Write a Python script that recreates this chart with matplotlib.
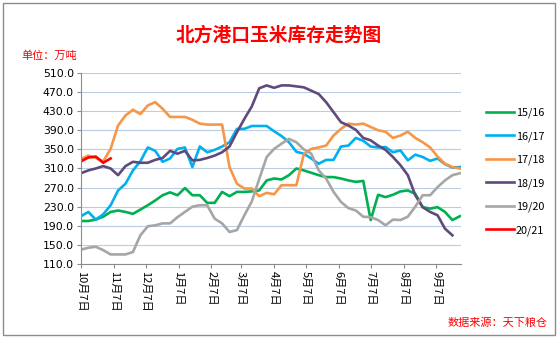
import matplotlib

matplotlib.use("Agg")
import matplotlib.pyplot as plt
from matplotlib.patches import Rectangle

plt.rcParams["font.family"] = ["Noto Sans CJK SC", "DejaVu Sans"]

# weekly points, x = days since Oct 7
tick_days = [0, 31, 61, 92, 123, 151, 182, 212, 243, 273, 304, 335]
tick_labels = ["10月7日", "11月7日", "12月7日", "1月7日", "2月7日", "3月7日",
               "4月7日", "5月7日", "6月7日", "7月7日", "8月7日", "9月7日"]

s1516 = [200, 200, 203, 209, 219, 222, 219, 215, 224, 233, 243, 254, 260, 254, 269, 254,
         254, 238, 238, 261, 252, 261, 261, 262, 264, 285, 289, 287, 296, 310, 306, 301,
         296, 292, 292, 289, 285, 282, 284, 202, 255, 250, 255, 262, 264, 257, 229, 226,
         229, 219, 202, 210]
s1617 = [210, 219, 203, 214, 233, 264, 278, 306, 325, 354, 347, 324, 331, 351, 354, 313,
         356, 344, 349, 356, 365, 393, 393, 399, 399, 399, 388, 378, 365, 345, 341, 331,
         320, 328, 328, 356, 358, 374, 368, 356, 354, 355, 344, 348, 327, 339, 334, 326,
         331, 319, 312, 313]
s1718 = [330, 337, 332, 325, 351, 400, 421, 433, 424, 442, 449, 435, 418, 418, 418, 412,
         404, 402, 402, 402, 313, 278, 268, 268, 252, 259, 256, 275, 275, 275, 340, 351,
         354, 358, 379, 393, 404, 402, 404, 397, 390, 387, 374, 379, 387, 374, 365, 354,
         335, 320, 313, 310]
s1819 = [300, 306, 310, 315, 310, 296, 315, 324, 322, 322, 328, 332, 347, 341, 347, 327,
         328, 332, 337, 344, 356, 386, 414, 440, 478, 484, 479, 484, 484, 482, 480, 473,
         466, 449, 428, 407, 400, 391, 374, 369, 358, 349, 334, 317, 296, 254, 229, 219,
         212, 184, 170]
s1920 = [140, 144, 146, 139, 130, 130, 130, 135, 170, 189, 191, 195, 195, 208, 219, 230,
         233, 233, 205, 195, 177, 181, 212, 241, 288, 334, 351, 362, 372, 365, 350, 341,
         306, 289, 261, 240, 227, 222, 209, 208, 202, 191, 203, 202, 209, 230, 254, 254,
         271, 285, 296, 300]
s2021 = [325, 333, 335, 322, 331]

series = [("15/16", s1516, "#00b050"), ("16/17", s1617, "#00b0f0"),
          ("17/18", s1718, "#f79646"), ("18/19", s1819, "#604a7b"),
          ("19/20", s1920, "#a6a6a6"), ("20/21", s2021, "#ff0000")]

fig = plt.figure(figsize=(5.58, 3.38), dpi=100)
fig.patches.append(Rectangle((0.006, 0.008), 0.988, 0.984, transform=fig.transFigure,
                             fill=False, edgecolor="#8c8c8c", linewidth=1.0))
ax = fig.add_axes([0.145, 0.219, 0.681, 0.565])

for name, values, color in series:
    days = [7 * i for i in range(len(values))]
    ax.plot(days, values, color=color, linewidth=1.9, label=name, solid_joinstyle="round")

ax.set_xlim(0, 358)
ax.set_ylim(110, 510)
ax.set_yticks(range(110, 511, 40))
ax.set_yticklabels([f"{v:.1f}" for v in range(110, 511, 40)], fontsize=7.8, family="DejaVu Sans")
ax.set_xticks(tick_days)
ax.set_xticklabels(tick_labels, rotation=270, fontsize=8, va="top", ha="center")
ax.grid(axis="y", color="#b9cde5", linewidth=0.8)
ax.set_axisbelow(True)
for side in ("top", "right"):
    ax.spines[side].set_visible(False)
for side in ("left", "bottom"):
    ax.spines[side].set_color("#8c8c8c")
ax.tick_params(axis="both", color="#8c8c8c", length=3, pad=2)

ax.legend(loc="upper left", bbox_to_anchor=(1.04, 0.87), frameon=False, fontsize=7.8,
          handlelength=2.6, labelspacing=1.2, handletextpad=0.15)

fig.text(0.5, 0.895, "北方港口玉米库存走势图", color="#ff0000", fontsize=13.5,
         fontweight="bold", ha="center", va="center")
fig.text(0.038, 0.835, "单位：万吨", color="#ff0000", fontsize=8, ha="left", va="center")
fig.text(0.982, 0.045, "数据来源：天下粮仓", color="#ff0000", fontsize=8, ha="right", va="center")

fig.savefig("out.png", dpi=100)
plt.close(fig)
